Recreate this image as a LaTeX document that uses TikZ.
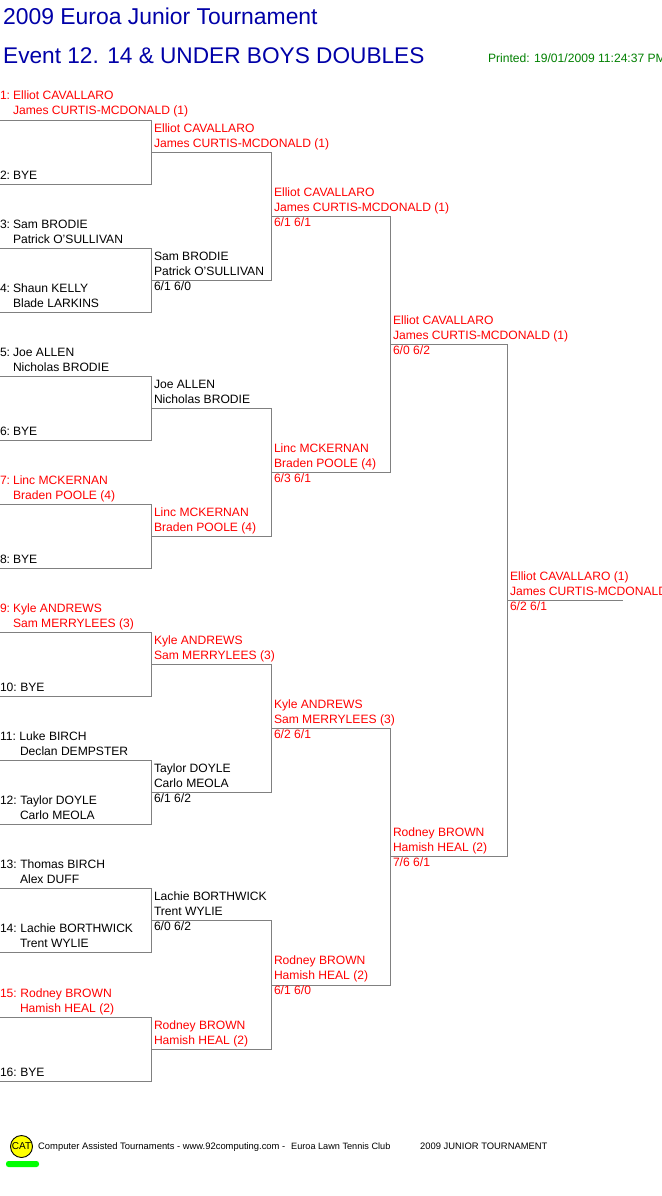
\documentclass[tikz,border=0pt]{standalone}
\usepackage{fontspec}
\setmainfont{Liberation Sans}
\definecolor{linegray}{HTML}{808080}
\definecolor{titleblue}{HTML}{0000A8}
\definecolor{printgreen}{HTML}{008000}
\definecolor{winred}{HTML}{FF0000}
\definecolor{logoyellow}{HTML}{FFFF00}
\definecolor{barlime}{HTML}{00FF00}
\tikzset{
  lab/.style={inner sep=0pt,outer sep=0pt,anchor=base west,font=\fontsize{12.1}{12.1}\selectfont,text=black},
  win/.style={lab,text=winred},
  titletext/.style={inner sep=0pt,anchor=base west,font=\fontsize{22.9}{22.9}\selectfont,text=titleblue},
  foot/.style={inner sep=0pt,anchor=base west,font=\fontsize{9.4}{9.4}\selectfont,text=black},
  bline/.style={draw=linegray,line width=1pt}
}
% \brk{name}{x0}{x1}{ytop}{ybot}: a bracket with two arms from x0 to x1
\newcommand{\brk}[5]{%
  \coordinate (#1a) at (#2,#4);
  \coordinate (#1b) at (#3,#4);
  \coordinate (#1c) at (#3,#5);
  \coordinate (#1d) at (#2,#5);
  \draw[bline] (#1a) -- (#1b) -- (#1c) -- (#1d);
}
% seed number, with the gap before the name
\newcommand{\sd}[1]{#1:\hspace{3pt}}
\newcommand{\sdd}[1]{#1:\hspace{3.5pt}}
\begin{document}
\begin{tikzpicture}[x=1pt,y=-1pt]
\useasboundingbox (0,0) rectangle (661,1196);
\clip (0,0) rectangle (661,1196);
\fill[white] (0,0) rectangle (661,1196);

\node[titletext] (t1) at (3,25) {2009 Euroa Junior Tournament};
\node[titletext,font=\fontsize{22.65}{22.65}\selectfont] (t2) at (3,64) {Event 12. 14 \& UNDER BOYS DOUBLES};
\node[lab,text=printgreen] (printed) at (488,63) {Printed: 19/01/2009 11:24:37 PM};

% round 1
\brk{p1}{0}{151.5}{120.5}{184.5}
\brk{p2}{0}{151.5}{248.5}{312.5}
\brk{p3}{0}{151.5}{376.5}{440.5}
\brk{p4}{0}{151.5}{504.5}{568.5}
\brk{p5}{0}{151.5}{632.5}{696.5}
\brk{p6}{0}{151.5}{760.5}{824.5}
\brk{p7}{0}{151.5}{888.5}{952.5}
\brk{p8}{0}{151.5}{1017.5}{1081.5}
% round 2
\brk{q1}{151.5}{271.5}{152.5}{280.5}
\brk{q2}{151.5}{271.5}{408.5}{536.5}
\brk{q3}{151.5}{271.5}{664.5}{792.5}
\brk{q4}{151.5}{271.5}{920.5}{1049.5}
% round 3
\brk{r1}{271.5}{390.5}{216.5}{472.5}
\brk{r2}{271.5}{390.5}{728.5}{985.5}
% round 4
\brk{s1}{390.5}{507.5}{344.5}{856.5}
% final
\coordinate (fa) at (507.5,600.5);
\coordinate (fb) at (622.5,600.5);
\draw[bline] (fa) -- (fb);

% draw seeds
\node[win] (a1) at (0,100) {\sd{1}Elliot CAVALLARO};
\node[win] (a1b) at (13,115) {James CURTIS-MCDONALD (1)};
\node[lab] (a2) at (0,179) {\sd{2}BYE};
\node[lab] (a3) at (0,228) {\sd{3}Sam BRODIE};
\node[lab] (a3b) at (13,243) {Patrick O'SULLIVAN};
\node[lab] (a4) at (0,292) {\sd{4}Shaun KELLY};
\node[lab] (a4b) at (13,307) {Blade LARKINS};
\node[lab] (a5) at (0,356) {\sd{5}Joe ALLEN};
\node[lab] (a5b) at (13,371) {Nicholas BRODIE};
\node[lab] (a6) at (0,435) {\sd{6}BYE};
\node[win] (a7) at (0,484) {\sd{7}Linc MCKERNAN};
\node[win] (a7b) at (13,499) {Braden POOLE (4)};
\node[lab] (a8) at (0,563) {\sd{8}BYE};
\node[win] (a9) at (0,612) {\sd{9}Kyle ANDREWS};
\node[win] (a9b) at (13,627) {Sam MERRYLEES (3)};
\node[lab] (a10) at (0,691) {\sdd{10}BYE};
\node[lab] (a11) at (0,740) {\sdd{11}Luke BIRCH};
\node[lab] (a11b) at (20,755) {Declan DEMPSTER};
\node[lab] (a12) at (0,804) {\sdd{12}Taylor DOYLE};
\node[lab] (a12b) at (20,819) {Carlo MEOLA};
\node[lab] (a13) at (0,868) {\sdd{13}Thomas BIRCH};
\node[lab] (a13b) at (20,883) {Alex DUFF};
\node[lab] (a14) at (0,932) {\sdd{14}Lachie BORTHWICK};
\node[lab] (a14b) at (20,947) {Trent WYLIE};
\node[win] (a15) at (0,997) {\sdd{15}Rodney BROWN};
\node[win] (a15b) at (20,1012) {Hamish HEAL (2)};
\node[lab] (a16) at (0,1076) {\sdd{16}BYE};

% round 2 winners
\node[win] (b1) at (154,132) {Elliot CAVALLARO};
\node[win] (b1b) at (154,147) {James CURTIS-MCDONALD (1)};
\node[lab] (b2) at (154,260) {Sam BRODIE};
\node[lab] (b2b) at (154,275) {Patrick O'SULLIVAN};
\node[lab] (b2c) at (154,290) {6/1 6/0};
\node[lab] (b3) at (154,388) {Joe ALLEN};
\node[lab] (b3b) at (154,403) {Nicholas BRODIE};
\node[win] (b4) at (154,516) {Linc MCKERNAN};
\node[win] (b4b) at (154,531) {Braden POOLE (4)};
\node[win] (b5) at (154,644) {Kyle ANDREWS};
\node[win] (b5b) at (154,659) {Sam MERRYLEES (3)};
\node[lab] (b6) at (154,772) {Taylor DOYLE};
\node[lab] (b6b) at (154,787) {Carlo MEOLA};
\node[lab] (b6c) at (154,802) {6/1 6/2};
\node[lab] (b7) at (154,900) {Lachie BORTHWICK};
\node[lab] (b7b) at (154,915) {Trent WYLIE};
\node[lab] (b7c) at (154,930) {6/0 6/2};
\node[win] (b8) at (154,1029) {Rodney BROWN};
\node[win] (b8b) at (154,1044) {Hamish HEAL (2)};

% round 3 winners
\node[win] (c1) at (274,196) {Elliot CAVALLARO};
\node[win] (c1b) at (274,211) {James CURTIS-MCDONALD (1)};
\node[win] (c1c) at (274,226) {6/1 6/1};
\node[win] (c2) at (274,452) {Linc MCKERNAN};
\node[win] (c2b) at (274,467) {Braden POOLE (4)};
\node[win] (c2c) at (274,482) {6/3 6/1};
\node[win] (c3) at (274,708) {Kyle ANDREWS};
\node[win] (c3b) at (274,723) {Sam MERRYLEES (3)};
\node[win] (c3c) at (274,738) {6/2 6/1};
\node[win] (c4) at (274,964) {Rodney BROWN};
\node[win] (c4b) at (274,979) {Hamish HEAL (2)};
\node[win] (c4c) at (274,994) {6/1 6/0};

% semi-final winners
\node[win] (d1) at (393,324) {Elliot CAVALLARO};
\node[win] (d1b) at (393,339) {James CURTIS-MCDONALD (1)};
\node[win] (d1c) at (393,354) {6/0 6/2};
\node[win] (d2) at (393,836) {Rodney BROWN};
\node[win] (d2b) at (393,851) {Hamish HEAL (2)};
\node[win] (d2c) at (393,866) {7/6 6/1};

% champion
\node[win] (e1) at (510,580) {Elliot CAVALLARO (1)};
\node[win] (e1b) at (510,595) {James CURTIS-MCDONALD (1)};
\node[win] (e1c) at (510,610) {6/2 6/1};

% footer
\node[draw=black,line width=0.9pt,fill=logoyellow,circle,minimum size=22pt,inner sep=0pt,font=\fontsize{10}{10}\selectfont] (logo) at (21.5,1146.5) {CAT};
\fill[barlime,rounded corners=2.5pt] (6,1161) rectangle (39,1167);
\node[foot] (f1) at (38,1149) {Computer Assisted Tournaments - www.92computing.com -};
\node[foot,font=\fontsize{9.15}{9.15}\selectfont] (f2) at (291,1149) {Euroa Lawn Tennis Club};
\node[foot] (f3) at (420,1149) {2009 JUNIOR TOURNAMENT};
\end{tikzpicture}
\end{document}
